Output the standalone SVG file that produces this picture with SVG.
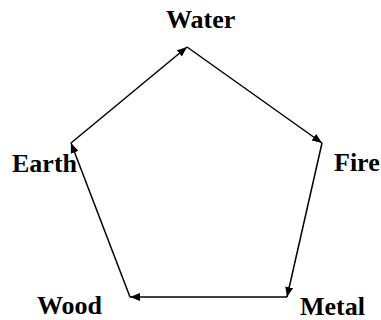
<svg xmlns="http://www.w3.org/2000/svg" width="381" height="320" viewBox="0 0 381 320">
<style>
.lbl{font-family:"Liberation Serif","Times New Roman",serif;font-weight:bold;font-size:26px;fill:#000}
.edge{stroke:#000;stroke-width:1.5;fill:none}
</style>
<defs>
<marker id="ah" viewBox="0 0 10 8" refX="10" refY="4" markerWidth="10" markerHeight="8" markerUnits="userSpaceOnUse" orient="auto">
<path d="M0,0 L10,4 L0,8 Z" fill="#000"/>
</marker>
</defs>
<rect width="381" height="320" fill="#fff"/>
<g id="connectors">
<line class="edge" x1="71" y1="143" x2="187" y2="47" marker-end="url(#ah)"/>
<line class="edge" x1="187" y1="47" x2="322" y2="143" marker-end="url(#ah)"/>
<line class="edge" x1="322" y1="143" x2="287" y2="297" marker-end="url(#ah)"/>
<line class="edge" x1="287" y1="297" x2="130" y2="297" marker-end="url(#ah)"/>
<line class="edge" x1="130" y1="297" x2="71" y2="143" marker-end="url(#ah)"/>
</g>
<g id="water"><text class="lbl" x="166" y="28">Water</text></g>
<g id="fire"><text class="lbl" x="334" y="171">Fire</text></g>
<g id="metal"><text class="lbl" x="300" y="315">Metal</text></g>
<g id="wood"><text class="lbl" x="37" y="314">Wood</text></g>
<g id="earth"><text class="lbl" x="12" y="172">Earth</text></g>
</svg>
